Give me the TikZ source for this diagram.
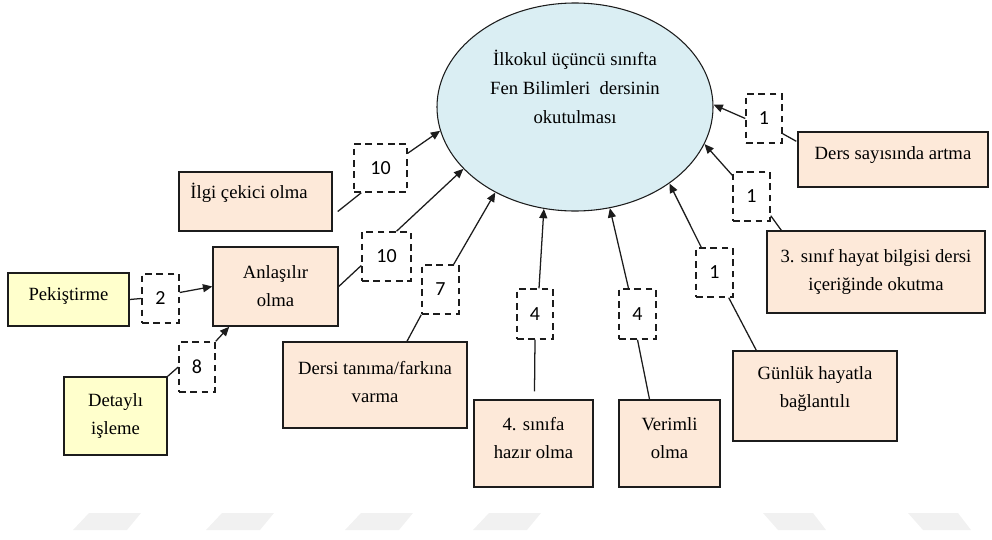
\documentclass[tikz,border=0pt]{standalone}
\usepackage{fontspec}
\setmainfont{Liberation Serif}
\newfontfamily\digitfont{Carlito}
\usetikzlibrary{arrows.meta,calc,shapes.geometric}
\definecolor{peach}{HTML}{FDE9D9}
\definecolor{paleyellow}{HTML}{FFFFCC}
\definecolor{paleblue}{HTML}{DAEEF3}
\definecolor{inkline}{HTML}{1C1C1C}
\definecolor{ghost}{HTML}{F1F1F1}
\begin{document}
\begin{tikzpicture}[x=0.75pt,y=-0.75pt,
  sz/.style 2 args={minimum width=#1*0.75pt, minimum height=#2*0.75pt},
  txt/.style={align=center, font=\fontsize{14}{21}\selectfont, inner sep=0pt, text=black},
  pbox/.style={draw=inkline, line width=1.1pt, fill=peach, inner sep=0pt},
  ybox/.style={pbox, fill=paleyellow},
  numbox/.style={draw=inkline, line width=1.1pt, dash pattern=on 5pt off 3.5pt,
    fill=white, inner sep=0pt, font=\digitfont\fontsize{15}{17}\selectfont},
  link/.style={draw=inkline, line width=0.95pt},
  arr/.style={link, -{Triangle[length=7pt,width=6pt]}},
]
\useasboundingbox (0,0) rectangle (992,539);

% faint marks along the bottom edge
\fill[ghost] (89,513) -- (141,513) -- (127,530) -- (73,530) -- cycle;
\fill[ghost] (222,513) -- (274,513) -- (260,530) -- (206,530) -- cycle;
\fill[ghost] (361,513) -- (413,513) -- (399,530) -- (345,530) -- cycle;
\fill[ghost] (489,513) -- (541,513) -- (527,530) -- (473,530) -- cycle;
\fill[ghost] (763,513) -- (813,513) -- (826,530) -- (778,530) -- cycle;
\fill[ghost] (908,513) -- (958,513) -- (971,530) -- (923,530) -- cycle;

% central topic
\node[ellipse, draw=inkline, line width=0.8pt, fill=paleblue, sz={276}{208}, inner sep=0pt,
  label={[txt, font=\fontsize{14}{22}\selectfont, yshift=15pt]center:İlkokul üçüncü sınıfta\\Fen Bilimleri~ dersinin\\okutulması}] (ell) at (575,107) {};

% factor boxes
\node[pbox, sz={153}{59}, label={[txt, xshift=-4.9pt, yshift=6.4pt]center:İlgi çekici olma}] (ilgi) at (255.5,201.5) {};
\node[pbox, sz={125}{79}, label={[txt]center:Anlaşılır\\olma}] (anl) at (275.5,286.5) {};
\node[ybox, sz={121}{53}, label={[txt, yshift=2.6pt]center:Pekiştirme}] (pek) at (68.5,299.5) {};
\node[ybox, sz={103}{78}, label={[txt]center:Detaylı\\işleme}] (det) at (115.5,416) {};
\node[pbox, sz={184}{86}, label={[txt, yshift=2.6pt]center:Dersi tanıma/farkına\\varma}] (dersi) at (375,385) {};
\node[pbox, sz={119}{87}, label={[txt, yshift=3.75pt]center:4. sınıfa\\hazır olma}] (hazir) at (533.5,443.5) {};
\node[pbox, sz={101}{87}, label={[txt, yshift=3.75pt]center:Verimli\\olma}] (verim) at (669.5,443.5) {};
\node[pbox, sz={164}{90}, label={[txt, yshift=5.25pt]center:Günlük hayatla\\bağlantılı}] (gunluk) at (815,396) {};
\node[pbox, sz={218}{82}, label={[txt]center:3. sınıf hayat bilgisi dersi\\içeriğinde okutma}] (sinif) at (876,272) {};
\node[pbox, sz={190}{55}, label={[txt, yshift=3.4pt]center:Ders sayısında artma}] (artma) at (893,159.5) {};

% frequency boxes
\node[numbox, sz={53}{48}] (w1) at (380.5,168) {10};
\node[numbox, sz={49}{49}] (w2) at (386.5,256.5) {10};
\node[numbox, sz={37}{49}] (w3) at (440.5,289.5) {7};
\node[numbox, sz={37}{49}] (w4) at (160.5,298.5) {2};
\node[numbox, sz={36}{50}] (w5) at (197,367) {8};
\node[numbox, sz={36}{50}] (w6) at (535,314) {4};
\node[numbox, sz={37}{50}] (w7) at (637.5,314) {4};
\node[numbox, sz={37}{49}] (w8) at (714.5,272.5) {1};
\node[numbox, sz={37}{49}] (w9) at (751.5,196.5) {1};
\node[numbox, sz={36}{49}] (w10) at (764,118.5) {1};

% connectors
\draw[link] ($(ilgi.east)+(5,10)$) -- ($(w1.south west)+(8,0)$);
\draw[arr] ($(w1.north east)+(0,10)$) -- (ell.190);
\draw[link] (anl.east) -- ($(w2.west)+(0,9)$);
\draw[arr] ($(w2.north)+(10,0)$) -- (ell.209);
\draw[link] ($(dersi.north)+(32,0)$) -- (w3.south west);
\draw[arr] ($(w3.north east)+(-6,0)$) -- (ell.227);
\draw[link] (pek.east) -- (w4.west);
\draw[arr] ($(w4.east)+(0,-6)$) -- (anl.west);
\draw[link] (det.north east) -- (w5.west);
\draw[arr] (w5.north east) -- ($(anl.south west)+(17,0)$);
\draw[link] ($(hazir.north)+(1,-8)$) -- (w6.south);
\draw[arr] ($(w6.north)+(4,0)$) -- (ell.253);
\draw[link] ($(verim.north)+(-20,0)$) -- (w7.south);
\draw[arr] ($(w7.north)+(-9,0)$) -- (ell.289);
\draw[link] ($(gunluk.north west)+(24,0)$) -- ($(w8.south east)+(-5,0)$);
\draw[arr] ($(w8.north west)+(6,0)$) -- (ell.321);
\draw[link] ($(sinif.north west)+(15,0)$) -- ($(w9.south east)+(0,-6)$);
\draw[arr] ($(w9.north west)+(0,4)$) -- (ell.344);
\draw[link] ($(artma.north west)+(-1,10)$) -- ($(w10.south east)+(0,-10)$);
\draw[arr] (w10.west) -- (ell.1);
\end{tikzpicture}
\end{document}
